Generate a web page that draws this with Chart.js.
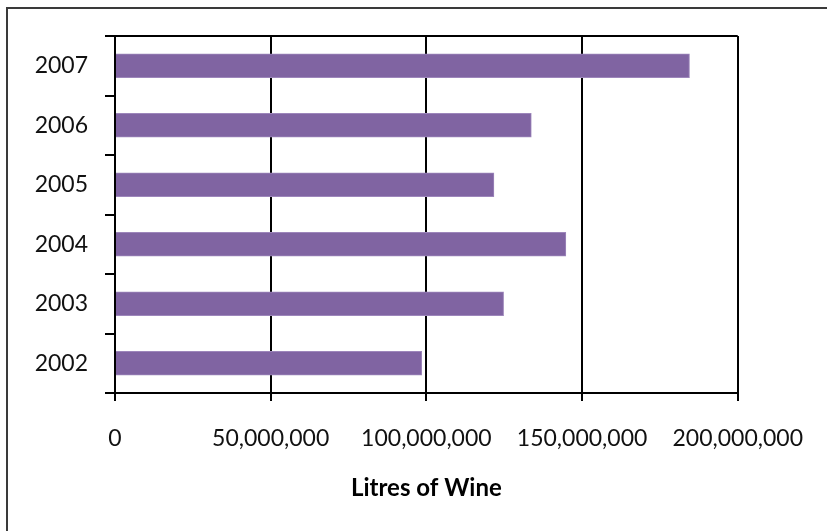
<!DOCTYPE html>
<html>
<head>
<meta charset="utf-8">
<script src="https://cdn.jsdelivr.net/npm/chart.js@4"></script>
<style>
  html, body { margin: 0; padding: 0; background: #fff; }
  #wrap { position: relative; width: 827px; height: 531px; }
</style>
</head>
<body>
<div id="wrap"><canvas id="c" width="827" height="531"></canvas></div>
<script>
const categories = ['2007', '2006', '2005', '2004', '2003', '2002'];
const litres = [184500000, 133700000, 121700000, 144800000, 124800000, 98500000];
const xTicks = [0, 50000000, 100000000, 150000000, 200000000];
const axisTitle = 'Litres of Wine';

const frame = {
  id: 'frame',
  beforeDraw(chart) {
    const ctx = chart.ctx;
    ctx.save();
    ctx.strokeStyle = '#3a3a3a';
    ctx.lineWidth = 2;
    ctx.beginPath();
    ctx.moveTo(7, 531);
    ctx.lineTo(7, 8);
    ctx.lineTo(827, 8);
    ctx.stroke();
    ctx.restore();
  },
  afterDatasetsDraw(chart) {
    const a = chart.chartArea;
    const ctx = chart.ctx;
    ctx.save();
    ctx.strokeStyle = '#000';
    ctx.lineWidth = 2;
    ctx.beginPath();
    ctx.moveTo(a.left - 10, a.top);
    ctx.lineTo(a.right, a.top);
    ctx.stroke();
    ctx.restore();
  }
};

const fontFam = 'Lato, "Open Sans", sans-serif';

new Chart(document.getElementById('c'), {
  type: 'bar',
  data: {
    labels: categories,
    datasets: [{
      data: litres,
      backgroundColor: '#8064A2',
      borderColor: '#9d86bb',
      borderWidth: 1,
      barThickness: 24
    }]
  },
  plugins: [frame],
  options: {
    indexAxis: 'y',
    responsive: false,
    animation: false,
    events: [],
    layout: { padding: { top: 36, right: 88, left: 0, bottom: 0 } },
    plugins: { legend: { display: false }, tooltip: { enabled: false } },
    scales: {
      x: {
        min: 0, max: 200000000,
        afterBuildTicks(scale) { scale.ticks = xTicks.map(v => ({ value: v })); },
        afterFit(scale) { scale.height = 138; },
        grid: { color: '#000', lineWidth: 2, tickLength: 8, tickColor: '#000' },
        border: { color: '#000', width: 2 },
        ticks: {
          color: '#111',
          padding: 24,
          font: { family: fontFam, size: 23 },
          maxRotation: 0,
          callback: v => v.toLocaleString('en-US')
        },
        title: {
          display: true,
          text: axisTitle,
          color: '#000',
          font: { family: fontFam, size: 24, weight: 'bold' },
          padding: { top: 0, bottom: 28 }
        }
      },
      y: {
        afterFit(scale) { scale.width = 115; },
        grid: { offset: true, drawOnChartArea: false, tickLength: 10, tickColor: '#000', lineWidth: 2 },
        border: { color: '#000', width: 2 },
        ticks: {
          color: '#111',
          padding: 17,
          font: { family: fontFam, size: 23 }
        }
      }
    }
  }
});
</script>
</body>
</html>
